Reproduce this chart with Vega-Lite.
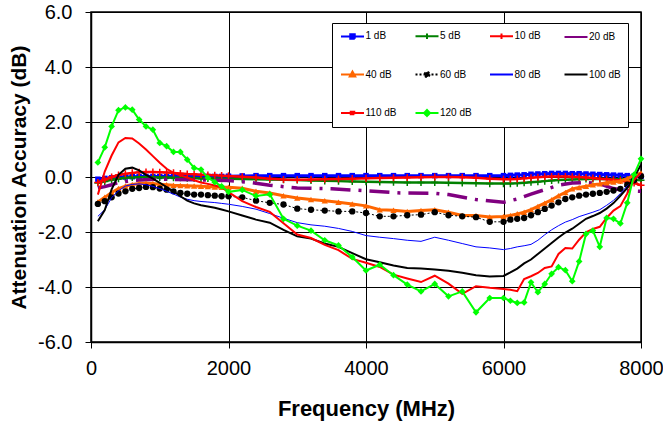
{
"$schema":"https://vega.github.io/schema/vega-lite/v6.json",
"autosize":{"type":"none"},
"width":550,"height":330,
"padding":{"left":91,"top":12,"right":22,"bottom":85},
"background":"white",
"config":{
 "view":{"stroke":"black","strokeWidth":1.5},
 "axis":{"grid":true,"gridColor":"black","gridOpacity":1,"gridWidth":1,"domainColor":"black","domainWidth":1.5,"tickColor":"black","tickSize":6,"labelFont":"Liberation Sans","labelFontSize":20,"labelColor":"black","titleFont":"Liberation Sans","titleFontSize":22,"titleFontWeight":"bold","titleColor":"black"}
},
"data":{"values":[
{"s":"1 dB","f":100,"v":-0.08},{"s":"1 dB","f":200,"v":-0.05},{"s":"1 dB","f":300,"v":-0.03},{"s":"1 dB","f":400,"v":-0.01},{"s":"1 dB","f":500,"v":0},{"s":"1 dB","f":600,"v":0.01},{"s":"1 dB","f":700,"v":0.02},{"s":"1 dB","f":800,"v":0.02},{"s":"1 dB","f":900,"v":0.02},{"s":"1 dB","f":1000,"v":0.02},{"s":"1 dB","f":1100,"v":0.02},{"s":"1 dB","f":1200,"v":0.02},{"s":"1 dB","f":1300,"v":0.02},{"s":"1 dB","f":1400,"v":0.02},{"s":"1 dB","f":1500,"v":0.02},{"s":"1 dB","f":1600,"v":0.02},{"s":"1 dB","f":1700,"v":0.02},{"s":"1 dB","f":1800,"v":0.02},{"s":"1 dB","f":1900,"v":0.02},{"s":"1 dB","f":2000,"v":0.03},{"s":"1 dB","f":2200,"v":0.04},{"s":"1 dB","f":2400,"v":0.05},{"s":"1 dB","f":2600,"v":0.05},{"s":"1 dB","f":2800,"v":0.05},{"s":"1 dB","f":3000,"v":0.05},{"s":"1 dB","f":3200,"v":0.05},{"s":"1 dB","f":3400,"v":0.05},{"s":"1 dB","f":3600,"v":0.05},{"s":"1 dB","f":3800,"v":0.05},{"s":"1 dB","f":4000,"v":0.05},{"s":"1 dB","f":4200,"v":0.05},{"s":"1 dB","f":4400,"v":0.05},{"s":"1 dB","f":4600,"v":0.05},{"s":"1 dB","f":4800,"v":0.05},{"s":"1 dB","f":5000,"v":0.05},{"s":"1 dB","f":5200,"v":0.05},{"s":"1 dB","f":5400,"v":0.05},{"s":"1 dB","f":5600,"v":0.05},{"s":"1 dB","f":5800,"v":0.05},{"s":"1 dB","f":6000,"v":0.05},{"s":"1 dB","f":6100,"v":0.06},{"s":"1 dB","f":6200,"v":0.07},{"s":"1 dB","f":6300,"v":0.08},{"s":"1 dB","f":6400,"v":0.1},{"s":"1 dB","f":6500,"v":0.11},{"s":"1 dB","f":6600,"v":0.12},{"s":"1 dB","f":6700,"v":0.13},{"s":"1 dB","f":6800,"v":0.13},{"s":"1 dB","f":6900,"v":0.13},{"s":"1 dB","f":7000,"v":0.12},{"s":"1 dB","f":7100,"v":0.12},{"s":"1 dB","f":7200,"v":0.11},{"s":"1 dB","f":7300,"v":0.1},{"s":"1 dB","f":7400,"v":0.09},{"s":"1 dB","f":7500,"v":0.08},{"s":"1 dB","f":7600,"v":0.07},{"s":"1 dB","f":7700,"v":0.06},{"s":"1 dB","f":7800,"v":0.05},{"s":"1 dB","f":7900,"v":0.03},{"s":"1 dB","f":8000,"v":0.02},
{"s":"5 dB","f":100,"v":-0.22},{"s":"5 dB","f":200,"v":-0.16},{"s":"5 dB","f":300,"v":-0.1},{"s":"5 dB","f":400,"v":-0.06},{"s":"5 dB","f":500,"v":-0.03},{"s":"5 dB","f":600,"v":-0.02},{"s":"5 dB","f":700,"v":-0.01},{"s":"5 dB","f":800,"v":-0.01},{"s":"5 dB","f":900,"v":-0.01},{"s":"5 dB","f":1000,"v":-0.02},{"s":"5 dB","f":1100,"v":-0.02},{"s":"5 dB","f":1200,"v":-0.03},{"s":"5 dB","f":1300,"v":-0.03},{"s":"5 dB","f":1400,"v":-0.04},{"s":"5 dB","f":1500,"v":-0.04},{"s":"5 dB","f":1600,"v":-0.05},{"s":"5 dB","f":1700,"v":-0.05},{"s":"5 dB","f":1800,"v":-0.05},{"s":"5 dB","f":1900,"v":-0.06},{"s":"5 dB","f":2000,"v":-0.06},{"s":"5 dB","f":2200,"v":-0.07},{"s":"5 dB","f":2400,"v":-0.08},{"s":"5 dB","f":2600,"v":-0.09},{"s":"5 dB","f":2800,"v":-0.1},{"s":"5 dB","f":3000,"v":-0.11},{"s":"5 dB","f":3200,"v":-0.13},{"s":"5 dB","f":3400,"v":-0.14},{"s":"5 dB","f":3600,"v":-0.15},{"s":"5 dB","f":3800,"v":-0.16},{"s":"5 dB","f":4000,"v":-0.17},{"s":"5 dB","f":4200,"v":-0.18},{"s":"5 dB","f":4400,"v":-0.19},{"s":"5 dB","f":4600,"v":-0.2},{"s":"5 dB","f":4800,"v":-0.2},{"s":"5 dB","f":5000,"v":-0.2},{"s":"5 dB","f":5200,"v":-0.21},{"s":"5 dB","f":5400,"v":-0.22},{"s":"5 dB","f":5600,"v":-0.23},{"s":"5 dB","f":5800,"v":-0.24},{"s":"5 dB","f":6000,"v":-0.24},{"s":"5 dB","f":6100,"v":-0.24},{"s":"5 dB","f":6200,"v":-0.23},{"s":"5 dB","f":6300,"v":-0.21},{"s":"5 dB","f":6400,"v":-0.19},{"s":"5 dB","f":6500,"v":-0.17},{"s":"5 dB","f":6600,"v":-0.15},{"s":"5 dB","f":6700,"v":-0.13},{"s":"5 dB","f":6800,"v":-0.11},{"s":"5 dB","f":6900,"v":-0.1},{"s":"5 dB","f":7000,"v":-0.09},{"s":"5 dB","f":7100,"v":-0.08},{"s":"5 dB","f":7200,"v":-0.07},{"s":"5 dB","f":7300,"v":-0.07},{"s":"5 dB","f":7400,"v":-0.07},{"s":"5 dB","f":7500,"v":-0.07},{"s":"5 dB","f":7600,"v":-0.08},{"s":"5 dB","f":7700,"v":-0.08},{"s":"5 dB","f":7800,"v":-0.09},{"s":"5 dB","f":7900,"v":-0.1},{"s":"5 dB","f":8000,"v":-0.12},
{"s":"10 dB","f":100,"v":-0.2},{"s":"10 dB","f":200,"v":-0.1},{"s":"10 dB","f":300,"v":0},{"s":"10 dB","f":400,"v":0.07},{"s":"10 dB","f":500,"v":0.12},{"s":"10 dB","f":600,"v":0.15},{"s":"10 dB","f":700,"v":0.17},{"s":"10 dB","f":800,"v":0.18},{"s":"10 dB","f":900,"v":0.18},{"s":"10 dB","f":1000,"v":0.17},{"s":"10 dB","f":1100,"v":0.16},{"s":"10 dB","f":1200,"v":0.15},{"s":"10 dB","f":1300,"v":0.13},{"s":"10 dB","f":1400,"v":0.11},{"s":"10 dB","f":1500,"v":0.1},{"s":"10 dB","f":1600,"v":0.08},{"s":"10 dB","f":1700,"v":0.07},{"s":"10 dB","f":1800,"v":0.06},{"s":"10 dB","f":1900,"v":0.05},{"s":"10 dB","f":2000,"v":0.04},{"s":"10 dB","f":2200,"v":0.01},{"s":"10 dB","f":2400,"v":-0.02},{"s":"10 dB","f":2600,"v":-0.06},{"s":"10 dB","f":2800,"v":-0.09},{"s":"10 dB","f":3000,"v":-0.1},{"s":"10 dB","f":3200,"v":-0.09},{"s":"10 dB","f":3400,"v":-0.08},{"s":"10 dB","f":3600,"v":-0.07},{"s":"10 dB","f":3800,"v":-0.06},{"s":"10 dB","f":4000,"v":-0.05},{"s":"10 dB","f":4200,"v":-0.04},{"s":"10 dB","f":4400,"v":-0.03},{"s":"10 dB","f":4600,"v":-0.02},{"s":"10 dB","f":4800,"v":-0.01},{"s":"10 dB","f":5000,"v":0},{"s":"10 dB","f":5200,"v":0},{"s":"10 dB","f":5400,"v":-0.01},{"s":"10 dB","f":5600,"v":-0.03},{"s":"10 dB","f":5800,"v":-0.06},{"s":"10 dB","f":6000,"v":-0.08},{"s":"10 dB","f":6100,"v":-0.08},{"s":"10 dB","f":6200,"v":-0.07},{"s":"10 dB","f":6300,"v":-0.05},{"s":"10 dB","f":6400,"v":-0.03},{"s":"10 dB","f":6500,"v":-0.01},{"s":"10 dB","f":6600,"v":0.01},{"s":"10 dB","f":6700,"v":0.02},{"s":"10 dB","f":6800,"v":0.02},{"s":"10 dB","f":6900,"v":0.02},{"s":"10 dB","f":7000,"v":0.01},{"s":"10 dB","f":7100,"v":0},{"s":"10 dB","f":7200,"v":-0.02},{"s":"10 dB","f":7300,"v":-0.04},{"s":"10 dB","f":7400,"v":-0.06},{"s":"10 dB","f":7500,"v":-0.08},{"s":"10 dB","f":7600,"v":-0.1},{"s":"10 dB","f":7700,"v":-0.13},{"s":"10 dB","f":7800,"v":-0.17},{"s":"10 dB","f":7900,"v":-0.22},{"s":"10 dB","f":8000,"v":-0.3},
{"s":"20 dB","f":100,"v":-0.4},{"s":"20 dB","f":200,"v":-0.35},{"s":"20 dB","f":300,"v":-0.28},{"s":"20 dB","f":400,"v":-0.2},{"s":"20 dB","f":600,"v":-0.13},{"s":"20 dB","f":800,"v":-0.1},{"s":"20 dB","f":1000,"v":-0.08},{"s":"20 dB","f":1500,"v":-0.1},{"s":"20 dB","f":2000,"v":-0.13},{"s":"20 dB","f":2300,"v":-0.19},{"s":"20 dB","f":2600,"v":-0.3},{"s":"20 dB","f":3000,"v":-0.4},{"s":"20 dB","f":3500,"v":-0.43},{"s":"20 dB","f":4000,"v":-0.5},{"s":"20 dB","f":4500,"v":-0.58},{"s":"20 dB","f":5000,"v":-0.59},{"s":"20 dB","f":5200,"v":-0.64},{"s":"20 dB","f":5600,"v":-0.82},{"s":"20 dB","f":6000,"v":-0.92},{"s":"20 dB","f":6200,"v":-0.8},{"s":"20 dB","f":6400,"v":-0.62},{"s":"20 dB","f":6600,"v":-0.46},{"s":"20 dB","f":6800,"v":-0.3},{"s":"20 dB","f":7000,"v":-0.22},{"s":"20 dB","f":7200,"v":-0.2},{"s":"20 dB","f":7400,"v":-0.25},{"s":"20 dB","f":7600,"v":-0.42},{"s":"20 dB","f":7800,"v":-0.5},{"s":"20 dB","f":8000,"v":-0.52},
{"s":"40 dB","f":100,"v":-0.91},{"s":"40 dB","f":200,"v":-0.74},{"s":"40 dB","f":300,"v":-0.56},{"s":"40 dB","f":400,"v":-0.42},{"s":"40 dB","f":500,"v":-0.33},{"s":"40 dB","f":600,"v":-0.27},{"s":"40 dB","f":700,"v":-0.24},{"s":"40 dB","f":800,"v":-0.23},{"s":"40 dB","f":900,"v":-0.24},{"s":"40 dB","f":1000,"v":-0.26},{"s":"40 dB","f":1100,"v":-0.28},{"s":"40 dB","f":1200,"v":-0.3},{"s":"40 dB","f":1300,"v":-0.31},{"s":"40 dB","f":1400,"v":-0.32},{"s":"40 dB","f":1500,"v":-0.33},{"s":"40 dB","f":1600,"v":-0.34},{"s":"40 dB","f":1700,"v":-0.35},{"s":"40 dB","f":1800,"v":-0.36},{"s":"40 dB","f":1900,"v":-0.37},{"s":"40 dB","f":2000,"v":-0.37},{"s":"40 dB","f":2200,"v":-0.41},{"s":"40 dB","f":2400,"v":-0.52},{"s":"40 dB","f":2600,"v":-0.58},{"s":"40 dB","f":2800,"v":-0.68},{"s":"40 dB","f":3000,"v":-0.76},{"s":"40 dB","f":3200,"v":-0.82},{"s":"40 dB","f":3400,"v":-0.86},{"s":"40 dB","f":3600,"v":-0.92},{"s":"40 dB","f":3800,"v":-0.98},{"s":"40 dB","f":4000,"v":-1.05},{"s":"40 dB","f":4200,"v":-1.19},{"s":"40 dB","f":4400,"v":-1.21},{"s":"40 dB","f":4600,"v":-1.25},{"s":"40 dB","f":4800,"v":-1.22},{"s":"40 dB","f":5000,"v":-1.19},{"s":"40 dB","f":5200,"v":-1.28},{"s":"40 dB","f":5400,"v":-1.4},{"s":"40 dB","f":5600,"v":-1.4},{"s":"40 dB","f":5800,"v":-1.45},{"s":"40 dB","f":6000,"v":-1.44},{"s":"40 dB","f":6100,"v":-1.4},{"s":"40 dB","f":6200,"v":-1.34},{"s":"40 dB","f":6300,"v":-1.28},{"s":"40 dB","f":6400,"v":-1.19},{"s":"40 dB","f":6500,"v":-1.07},{"s":"40 dB","f":6600,"v":-0.95},{"s":"40 dB","f":6700,"v":-0.83},{"s":"40 dB","f":6800,"v":-0.68},{"s":"40 dB","f":6900,"v":-0.56},{"s":"40 dB","f":7000,"v":-0.43},{"s":"40 dB","f":7100,"v":-0.38},{"s":"40 dB","f":7200,"v":-0.34},{"s":"40 dB","f":7300,"v":-0.28},{"s":"40 dB","f":7400,"v":-0.25},{"s":"40 dB","f":7500,"v":-0.21},{"s":"40 dB","f":7600,"v":-0.18},{"s":"40 dB","f":7700,"v":-0.15},{"s":"40 dB","f":7800,"v":-0.06},{"s":"40 dB","f":7900,"v":0.06},{"s":"40 dB","f":8000,"v":0.15},
{"s":"60 dB","f":100,"v":-0.98},{"s":"60 dB","f":200,"v":-0.88},{"s":"60 dB","f":300,"v":-0.74},{"s":"60 dB","f":400,"v":-0.6},{"s":"60 dB","f":500,"v":-0.52},{"s":"60 dB","f":600,"v":-0.43},{"s":"60 dB","f":700,"v":-0.4},{"s":"60 dB","f":800,"v":-0.36},{"s":"60 dB","f":900,"v":-0.37},{"s":"60 dB","f":1000,"v":-0.42},{"s":"60 dB","f":1100,"v":-0.46},{"s":"60 dB","f":1200,"v":-0.52},{"s":"60 dB","f":1300,"v":-0.58},{"s":"60 dB","f":1400,"v":-0.61},{"s":"60 dB","f":1500,"v":-0.64},{"s":"60 dB","f":1600,"v":-0.64},{"s":"60 dB","f":1700,"v":-0.66},{"s":"60 dB","f":1800,"v":-0.68},{"s":"60 dB","f":1900,"v":-0.7},{"s":"60 dB","f":2000,"v":-0.7},{"s":"60 dB","f":2200,"v":-0.74},{"s":"60 dB","f":2400,"v":-0.86},{"s":"60 dB","f":2600,"v":-0.94},{"s":"60 dB","f":2800,"v":-1.0},{"s":"60 dB","f":3000,"v":-1.15},{"s":"60 dB","f":3200,"v":-1.19},{"s":"60 dB","f":3400,"v":-1.22},{"s":"60 dB","f":3600,"v":-1.25},{"s":"60 dB","f":3800,"v":-1.25},{"s":"60 dB","f":4000,"v":-1.31},{"s":"60 dB","f":4200,"v":-1.43},{"s":"60 dB","f":4400,"v":-1.43},{"s":"60 dB","f":4600,"v":-1.39},{"s":"60 dB","f":4800,"v":-1.37},{"s":"60 dB","f":5000,"v":-1.28},{"s":"60 dB","f":5200,"v":-1.39},{"s":"60 dB","f":5400,"v":-1.43},{"s":"60 dB","f":5600,"v":-1.46},{"s":"60 dB","f":5800,"v":-1.63},{"s":"60 dB","f":6000,"v":-1.63},{"s":"60 dB","f":6100,"v":-1.55},{"s":"60 dB","f":6200,"v":-1.52},{"s":"60 dB","f":6300,"v":-1.49},{"s":"60 dB","f":6400,"v":-1.39},{"s":"60 dB","f":6500,"v":-1.28},{"s":"60 dB","f":6600,"v":-1.16},{"s":"60 dB","f":6700,"v":-1.04},{"s":"60 dB","f":6800,"v":-0.92},{"s":"60 dB","f":6900,"v":-0.8},{"s":"60 dB","f":7000,"v":-0.74},{"s":"60 dB","f":7100,"v":-0.68},{"s":"60 dB","f":7200,"v":-0.64},{"s":"60 dB","f":7300,"v":-0.61},{"s":"60 dB","f":7400,"v":-0.58},{"s":"60 dB","f":7500,"v":-0.54},{"s":"60 dB","f":7600,"v":-0.49},{"s":"60 dB","f":7700,"v":-0.43},{"s":"60 dB","f":7800,"v":-0.28},{"s":"60 dB","f":7900,"v":-0.12},{"s":"60 dB","f":8000,"v":0.03},
{"s":"80 dB","f":100,"v":-1.43},{"s":"80 dB","f":200,"v":-1.19},{"s":"80 dB","f":300,"v":-0.75},{"s":"80 dB","f":400,"v":-0.5},{"s":"80 dB","f":500,"v":-0.33},{"s":"80 dB","f":600,"v":-0.27},{"s":"80 dB","f":700,"v":-0.25},{"s":"80 dB","f":800,"v":-0.28},{"s":"80 dB","f":900,"v":-0.34},{"s":"80 dB","f":1000,"v":-0.42},{"s":"80 dB","f":1100,"v":-0.52},{"s":"80 dB","f":1200,"v":-0.62},{"s":"80 dB","f":1300,"v":-0.73},{"s":"80 dB","f":1400,"v":-0.81},{"s":"80 dB","f":1500,"v":-0.86},{"s":"80 dB","f":1600,"v":-0.89},{"s":"80 dB","f":1700,"v":-0.91},{"s":"80 dB","f":1800,"v":-0.93},{"s":"80 dB","f":1900,"v":-0.96},{"s":"80 dB","f":2000,"v":-0.99},{"s":"80 dB","f":2200,"v":-1.07},{"s":"80 dB","f":2400,"v":-1.17},{"s":"80 dB","f":2600,"v":-1.33},{"s":"80 dB","f":2800,"v":-1.5},{"s":"80 dB","f":3000,"v":-1.66},{"s":"80 dB","f":3200,"v":-1.74},{"s":"80 dB","f":3400,"v":-1.79},{"s":"80 dB","f":3600,"v":-1.87},{"s":"80 dB","f":3800,"v":-1.98},{"s":"80 dB","f":4000,"v":-2.13},{"s":"80 dB","f":4200,"v":-2.19},{"s":"80 dB","f":4400,"v":-2.24},{"s":"80 dB","f":4600,"v":-2.3},{"s":"80 dB","f":4800,"v":-2.34},{"s":"80 dB","f":5000,"v":-2.19},{"s":"80 dB","f":5200,"v":-2.3},{"s":"80 dB","f":5400,"v":-2.42},{"s":"80 dB","f":5600,"v":-2.54},{"s":"80 dB","f":5800,"v":-2.58},{"s":"80 dB","f":6000,"v":-2.64},{"s":"80 dB","f":6100,"v":-2.6},{"s":"80 dB","f":6200,"v":-2.54},{"s":"80 dB","f":6300,"v":-2.5},{"s":"80 dB","f":6400,"v":-2.45},{"s":"80 dB","f":6500,"v":-2.3},{"s":"80 dB","f":6600,"v":-2.1},{"s":"80 dB","f":6700,"v":-1.92},{"s":"80 dB","f":6800,"v":-1.77},{"s":"80 dB","f":6900,"v":-1.64},{"s":"80 dB","f":7000,"v":-1.55},{"s":"80 dB","f":7100,"v":-1.44},{"s":"80 dB","f":7200,"v":-1.36},{"s":"80 dB","f":7300,"v":-1.28},{"s":"80 dB","f":7400,"v":-1.19},{"s":"80 dB","f":7500,"v":-1.03},{"s":"80 dB","f":7600,"v":-0.85},{"s":"80 dB","f":7700,"v":-0.6},{"s":"80 dB","f":7800,"v":-0.32},{"s":"80 dB","f":7900,"v":-0.08},{"s":"80 dB","f":8000,"v":0.1},
{"s":"100 dB","f":100,"v":-1.61},{"s":"100 dB","f":200,"v":-1.2},{"s":"100 dB","f":300,"v":-0.45},{"s":"100 dB","f":400,"v":0.08},{"s":"100 dB","f":500,"v":0.3},{"s":"100 dB","f":600,"v":0.34},{"s":"100 dB","f":700,"v":0.24},{"s":"100 dB","f":800,"v":0.08},{"s":"100 dB","f":900,"v":-0.06},{"s":"100 dB","f":1000,"v":-0.21},{"s":"100 dB","f":1100,"v":-0.37},{"s":"100 dB","f":1200,"v":-0.52},{"s":"100 dB","f":1300,"v":-0.7},{"s":"100 dB","f":1400,"v":-0.86},{"s":"100 dB","f":1500,"v":-0.96},{"s":"100 dB","f":1600,"v":-1.03},{"s":"100 dB","f":1700,"v":-1.07},{"s":"100 dB","f":1800,"v":-1.12},{"s":"100 dB","f":1900,"v":-1.18},{"s":"100 dB","f":2000,"v":-1.25},{"s":"100 dB","f":2200,"v":-1.4},{"s":"100 dB","f":2400,"v":-1.55},{"s":"100 dB","f":2600,"v":-1.66},{"s":"100 dB","f":2800,"v":-1.92},{"s":"100 dB","f":3000,"v":-2.16},{"s":"100 dB","f":3200,"v":-2.24},{"s":"100 dB","f":3400,"v":-2.42},{"s":"100 dB","f":3600,"v":-2.54},{"s":"100 dB","f":3800,"v":-2.77},{"s":"100 dB","f":4000,"v":-2.99},{"s":"100 dB","f":4200,"v":-3.1},{"s":"100 dB","f":4400,"v":-3.22},{"s":"100 dB","f":4600,"v":-3.31},{"s":"100 dB","f":4800,"v":-3.33},{"s":"100 dB","f":5000,"v":-3.36},{"s":"100 dB","f":5200,"v":-3.41},{"s":"100 dB","f":5400,"v":-3.48},{"s":"100 dB","f":5600,"v":-3.57},{"s":"100 dB","f":5800,"v":-3.62},{"s":"100 dB","f":6000,"v":-3.6},{"s":"100 dB","f":6100,"v":-3.47},{"s":"100 dB","f":6200,"v":-3.33},{"s":"100 dB","f":6300,"v":-3.14},{"s":"100 dB","f":6400,"v":-3.0},{"s":"100 dB","f":6500,"v":-2.8},{"s":"100 dB","f":6600,"v":-2.6},{"s":"100 dB","f":6700,"v":-2.4},{"s":"100 dB","f":6800,"v":-2.2},{"s":"100 dB","f":6900,"v":-2.02},{"s":"100 dB","f":7000,"v":-1.88},{"s":"100 dB","f":7100,"v":-1.7},{"s":"100 dB","f":7200,"v":-1.52},{"s":"100 dB","f":7300,"v":-1.42},{"s":"100 dB","f":7400,"v":-1.31},{"s":"100 dB","f":7500,"v":-1.15},{"s":"100 dB","f":7600,"v":-0.95},{"s":"100 dB","f":7700,"v":-0.68},{"s":"100 dB","f":7800,"v":-0.4},{"s":"100 dB","f":7900,"v":-0.02},{"s":"100 dB","f":8000,"v":0.45},
{"s":"110 dB","f":100,"v":-0.64},{"s":"110 dB","f":200,"v":0.2},{"s":"110 dB","f":300,"v":0.78},{"s":"110 dB","f":400,"v":1.26},{"s":"110 dB","f":500,"v":1.42},{"s":"110 dB","f":600,"v":1.4},{"s":"110 dB","f":700,"v":1.22},{"s":"110 dB","f":800,"v":1.0},{"s":"110 dB","f":900,"v":0.76},{"s":"110 dB","f":1000,"v":0.52},{"s":"110 dB","f":1100,"v":0.3},{"s":"110 dB","f":1200,"v":0.15},{"s":"110 dB","f":1300,"v":0.06},{"s":"110 dB","f":1400,"v":-0.02},{"s":"110 dB","f":1500,"v":-0.12},{"s":"110 dB","f":1600,"v":-0.2},{"s":"110 dB","f":1700,"v":-0.25},{"s":"110 dB","f":1800,"v":-0.31},{"s":"110 dB","f":1900,"v":-0.38},{"s":"110 dB","f":2000,"v":-0.55},{"s":"110 dB","f":2200,"v":-0.88},{"s":"110 dB","f":2400,"v":-1.09},{"s":"110 dB","f":2600,"v":-1.27},{"s":"110 dB","f":2800,"v":-1.68},{"s":"110 dB","f":3000,"v":-2.09},{"s":"110 dB","f":3200,"v":-2.22},{"s":"110 dB","f":3400,"v":-2.47},{"s":"110 dB","f":3600,"v":-2.66},{"s":"110 dB","f":3800,"v":-2.98},{"s":"110 dB","f":4000,"v":-3.12},{"s":"110 dB","f":4200,"v":-3.27},{"s":"110 dB","f":4400,"v":-3.55},{"s":"110 dB","f":4600,"v":-3.69},{"s":"110 dB","f":4800,"v":-3.82},{"s":"110 dB","f":5000,"v":-3.59},{"s":"110 dB","f":5200,"v":-3.88},{"s":"110 dB","f":5400,"v":-4.25},{"s":"110 dB","f":5600,"v":-3.97},{"s":"110 dB","f":5800,"v":-4.03},{"s":"110 dB","f":6000,"v":-4.07},{"s":"110 dB","f":6100,"v":-4.1},{"s":"110 dB","f":6200,"v":-4.15},{"s":"110 dB","f":6300,"v":-3.71},{"s":"110 dB","f":6400,"v":-3.61},{"s":"110 dB","f":6500,"v":-3.49},{"s":"110 dB","f":6600,"v":-3.31},{"s":"110 dB","f":6700,"v":-3.25},{"s":"110 dB","f":6800,"v":-2.8},{"s":"110 dB","f":6900,"v":-2.58},{"s":"110 dB","f":7000,"v":-2.6},{"s":"110 dB","f":7100,"v":-2.28},{"s":"110 dB","f":7200,"v":-2.01},{"s":"110 dB","f":7300,"v":-1.89},{"s":"110 dB","f":7400,"v":-1.81},{"s":"110 dB","f":7500,"v":-1.49},{"s":"110 dB","f":7600,"v":-1.22},{"s":"110 dB","f":7700,"v":-1.06},{"s":"110 dB","f":7800,"v":-0.6},{"s":"110 dB","f":7900,"v":-0.1},{"s":"110 dB","f":8000,"v":0.15},
{"s":"120 dB","f":100,"v":0.53},{"s":"120 dB","f":200,"v":1.08},{"s":"120 dB","f":300,"v":1.84},{"s":"120 dB","f":400,"v":2.43},{"s":"120 dB","f":500,"v":2.53},{"s":"120 dB","f":600,"v":2.45},{"s":"120 dB","f":700,"v":2.09},{"s":"120 dB","f":800,"v":1.84},{"s":"120 dB","f":900,"v":1.72},{"s":"120 dB","f":1000,"v":1.24},{"s":"120 dB","f":1100,"v":1.12},{"s":"120 dB","f":1200,"v":0.91},{"s":"120 dB","f":1300,"v":0.91},{"s":"120 dB","f":1400,"v":0.63},{"s":"120 dB","f":1500,"v":0.33},{"s":"120 dB","f":1600,"v":0.27},{"s":"120 dB","f":1700,"v":-0.03},{"s":"120 dB","f":1800,"v":-0.19},{"s":"120 dB","f":1900,"v":-0.34},{"s":"120 dB","f":2000,"v":-0.54},{"s":"120 dB","f":2200,"v":-0.47},{"s":"120 dB","f":2400,"v":-0.69},{"s":"120 dB","f":2600,"v":-0.63},{"s":"120 dB","f":2800,"v":-1.52},{"s":"120 dB","f":3000,"v":-1.77},{"s":"120 dB","f":3200,"v":-1.95},{"s":"120 dB","f":3400,"v":-2.3},{"s":"120 dB","f":3600,"v":-2.49},{"s":"120 dB","f":3800,"v":-2.91},{"s":"120 dB","f":4000,"v":-3.4},{"s":"120 dB","f":4200,"v":-3.19},{"s":"120 dB","f":4400,"v":-3.57},{"s":"120 dB","f":4600,"v":-3.91},{"s":"120 dB","f":4800,"v":-4.16},{"s":"120 dB","f":5000,"v":-3.89},{"s":"120 dB","f":5200,"v":-4.34},{"s":"120 dB","f":5400,"v":-4.16},{"s":"120 dB","f":5600,"v":-4.92},{"s":"120 dB","f":5800,"v":-4.4},{"s":"120 dB","f":6000,"v":-4.4},{"s":"120 dB","f":6100,"v":-4.5},{"s":"120 dB","f":6200,"v":-4.58},{"s":"120 dB","f":6300,"v":-4.56},{"s":"120 dB","f":6400,"v":-3.83},{"s":"120 dB","f":6500,"v":-4.19},{"s":"120 dB","f":6600,"v":-3.89},{"s":"120 dB","f":6700,"v":-3.52},{"s":"120 dB","f":6800,"v":-3.28},{"s":"120 dB","f":6900,"v":-3.39},{"s":"120 dB","f":7000,"v":-3.79},{"s":"120 dB","f":7100,"v":-3.07},{"s":"120 dB","f":7200,"v":-2.07},{"s":"120 dB","f":7300,"v":-1.95},{"s":"120 dB","f":7400,"v":-2.54},{"s":"120 dB","f":7500,"v":-1.49},{"s":"120 dB","f":7600,"v":-1.52},{"s":"120 dB","f":7700,"v":-1.69},{"s":"120 dB","f":7800,"v":-0.94},{"s":"120 dB","f":7900,"v":0.09},{"s":"120 dB","f":8000,"v":0.66}
]},
"encoding":{
 "x":{"field":"f","type":"quantitative","scale":{"domain":[0,8000],"nice":false,"zero":false},"axis":{"values":[0,2000,4000,6000,8000],"format":"d","title":"Frequency (MHz)","labelPadding":10,"titlePadding":20,"labelFlush":false}},
 "y":{"field":"v","type":"quantitative","scale":{"domain":[-6,6],"nice":false},"axis":{"values":[-6,-4,-2,0,2,4,6],"format":".1f","labelExpr":"replace(datum.label, '−', '-')","title":"Attenuation Accuracy (dB)","titleFontSize":21,"labelPadding":13,"titlePadding":8}},
 "color":{"field":"s","type":"nominal","sort":null,
  "scale":{"domain":["1 dB","5 dB","10 dB","20 dB","40 dB","60 dB","80 dB","100 dB","110 dB","120 dB"],"range":["#0000ff","#008000","#ff0000","#800080","#ff6600","#000000","#0000ff","#000000","#ff0000","#00ff00"]},
  "legend":{"orient":"none","legendX":241,"legendY":11,"direction":"horizontal","columns":4,"title":null,"fillColor":"white","strokeColor":"black","padding":7,"symbolSize":100,"symbolStrokeWidth":2,"symbolType":"M-2.3,0H2.3","symbolOffset":7.5,"labelFont":"Liberation Sans","labelFontSize":10,"labelColor":"black","labelOffset":7,"rowPadding":24.5,"columnPadding":13.5,"gridAlign":"all",
   "encode":{"symbols":{"update":{
    "shape":{"signal":"['M-2.3,0H2.3M-0.45,-0.45H0.45V0.45H-0.45Z','M-2.3,0H2.3M0,-0.55V0.55','M-2.3,0H2.3M0,-0.55V0.55','M-2.3,0H2.3','M-2.3,0H2.3M0,-0.6L0.55,0.4H-0.55Z','M-2.3,0H2.3M0.5,0A0.5,0.5,0,1,1,-0.5,0A0.5,0.5,0,1,1,0.5,0Z','M-2.3,0H2.3','M-2.3,0H2.3','M-2.3,0H2.3M-0.35,-0.25H0.35V0.25H-0.35Z','M-2.3,0H2.3M0,-0.6L0.6,0L0,0.6L-0.6,0Z'][indexof(['1 dB','5 dB','10 dB','20 dB','40 dB','60 dB','80 dB','100 dB','110 dB','120 dB'], datum.value)]"},
    "stroke":{"signal":"['#0000ff','#008000','#ff0000','#800080','#ff6600','#000000','#0000ff','#000000','#ff0000','#00ff00'][indexof(['1 dB','5 dB','10 dB','20 dB','40 dB','60 dB','80 dB','100 dB','110 dB','120 dB'], datum.value)]"},
    "fill":{"signal":"['#0000ff','transparent','transparent','transparent','#ff6600','#000000','transparent','transparent','#ff0000','#00ff00'][indexof(['1 dB','5 dB','10 dB','20 dB','40 dB','60 dB','80 dB','100 dB','110 dB','120 dB'], datum.value)]"},
    "strokeDash":{"signal":"datum.value === '60 dB' ? [2,2] : [1,0]"},
    "opacity":{"value":1}
   }}}
  }}
},
"layer":[
 {"transform":[{"filter":"datum.s === '1 dB'"}],"mark":{"type":"line","strokeWidth":3,"point":{"shape":"square","size":30,"filled":true,"opacity":1}}},
 {"transform":[{"filter":"datum.s === '5 dB'"}],"mark":{"type":"line","strokeWidth":2.5,"point":{"shape":"M0,-1V1M-1,0H1","size":50,"filled":false,"strokeWidth":1.5,"opacity":1}}},
 {"transform":[{"filter":"datum.s === '10 dB'"}],"mark":{"type":"line","strokeWidth":2.5,"point":{"shape":"M0,-1V1M-1,0H1","size":50,"filled":false,"strokeWidth":1.5,"opacity":1}}},
 {"transform":[{"filter":"datum.s === '20 dB'"}],"mark":{"type":"line","strokeWidth":3.5,"strokeDash":[20,8,3,8],"strokeCap":"butt"}},
 {"transform":[{"filter":"datum.s === '40 dB'"}],"mark":{"type":"line","strokeWidth":3,"point":{"shape":"triangle-up","size":40,"filled":true,"opacity":1}}},
 {"transform":[{"filter":"datum.s === '60 dB'"}],"mark":{"type":"line","strokeWidth":1,"strokeDash":[2,2],"point":{"shape":"circle","size":40,"filled":true,"opacity":1}}},
 {"transform":[{"filter":"datum.s === '80 dB'"}],"mark":{"type":"line","strokeWidth":1}},
 {"transform":[{"filter":"datum.s === '100 dB'"}],"mark":{"type":"line","strokeWidth":2}},
 {"transform":[{"filter":"datum.s === '110 dB'"}],"mark":{"type":"line","strokeWidth":2}},
 {"transform":[{"filter":"datum.s === '120 dB'"}],"mark":{"type":"line","strokeWidth":2,"point":{"shape":"diamond","size":45,"filled":true,"opacity":1}}},
 {"data":{"values":[{"t":"over Attenuation Settings"}]},
  "mark":{"type":"text","font":"Liberation Sans","fontSize":23,"fontWeight":"bold","baseline":"alphabetic","align":"center","clip":false},
  "encoding":{"x":{"datum":4218,"type":"quantitative"},"y":{"datum":6.25,"type":"quantitative"},"text":{"field":"t","type":"nominal"},"color":{"value":"black"}}}
]
}
